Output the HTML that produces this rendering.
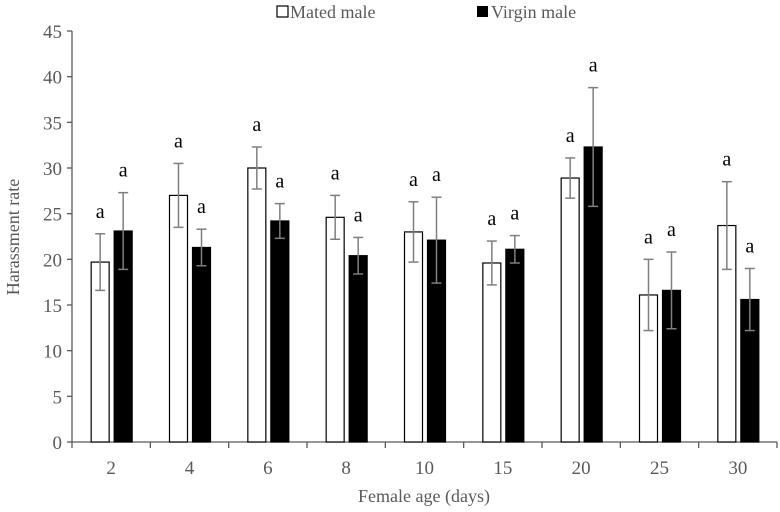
<!DOCTYPE html>
<html><head><meta charset="utf-8"><style>
html,body{margin:0;padding:0;background:#fff;overflow:hidden}
body{position:relative;width:780px;height:512px}
svg{position:absolute;left:0;top:0}
svg text{font-family:"Liberation Serif",serif}
</style></head><body>
<svg width="780" height="512" viewBox="0 0 780 512" id="chart">
 <g>
  <rect x="277" y="6" width="11" height="11" fill="#fff" stroke="#000" stroke-width="1.2"/>
  <text x="290" y="18" font-size="18" fill="#595959">Mated male</text>
  <rect x="477" y="6" width="11" height="11" fill="#000"/>
  <text x="491" y="18" font-size="18" fill="#595959">Virgin male</text>
 </g>
 <text x="424" y="502" text-anchor="middle" font-size="18" fill="#595959">Female age (days)</text>
 <text transform="translate(19,237) rotate(-90)" text-anchor="middle" font-size="18" fill="#595959">Harassment rate</text>
</svg>
<script>
const categories=["2","4","6","8","10","15","20","25","30"];
const matedValues=[19.7,27.0,30.0,24.6,23.0,19.6,28.9,16.1,23.7];
const matedErrors=[3.1,3.5,2.3,2.4,3.3,2.4,2.2,3.9,4.8];
const virginValues=[23.1,21.3,24.2,20.4,22.1,21.1,32.3,16.6,15.6];
const virginErrors=[4.2,2.0,1.9,2.0,4.7,1.5,6.5,4.2,3.4];
const yTicks=[0,5,10,15,20,25,30,35,40,45];
const svg=document.getElementById('chart');
const NS='http://www.w3.org/2000/svg';
const x0=72,x1=777,y0=442,yTop=31,yMax=45;
const band=(x1-x0)/categories.length;
function y(v){return y0-(v/yMax)*(y0-yTop);}
function mk(t,a){const e=document.createElementNS(NS,t);for(const k in a)e.setAttribute(k,a[k]);svg.appendChild(e);return e;}
let ax=mk('line',{x1:x0,y1:yTop,x2:x0,y2:y0,stroke:'#595959','stroke-width':1.3});


yTicks.forEach(t=>{
 mk('line',{x1:x0-5,y1:y(t),x2:x0,y2:y(t),stroke:'#595959','stroke-width':1.3});
 const tx=mk('text',{x:x0-10,y:y(t)+7,'text-anchor':'end','font-size':19,fill:'#595959'});
 tx.textContent=t;
 
 
});
let xa=mk('line',{x1:x0,y1:y0,x2:x1,y2:y0,stroke:'#595959','stroke-width':1.3});


for(let i=0;i<=categories.length;i++){mk('line',{x1:x0+i*band,y1:y0,x2:x0+i*band,y2:y0+6,stroke:'#595959','stroke-width':1.3});}
categories.forEach((c,i)=>{
 const cx=x0+(i+0.5)*band;
 const tx=mk('text',{x:cx,y:y0+32,'text-anchor':'middle','font-size':19,fill:'#595959'});
 tx.textContent=c;
 
 
 [[matedValues,matedErrors,cx-20,'#fff','mated'],[virginValues,virginErrors,cx+3,'#000','virgin']].forEach(([vals,errs,bx,fill,nm])=>{
  const v=vals[i],e=errs[i],w=18;
  const r=mk('rect',{x:bx,y:y(v),width:w,height:y0-y(v),fill:fill,stroke:'#000','stroke-width':1.2});
  
  
  const mx=bx+w/2;
  mk('line',{x1:mx,y1:y(v+e),x2:mx,y2:y(v-e),stroke:'#7f7f7f','stroke-width':1.5});
  mk('line',{x1:mx-5,y1:y(v+e),x2:mx+5,y2:y(v+e),stroke:'#7f7f7f','stroke-width':1.5});
  mk('line',{x1:mx-5,y1:y(v-e),x2:mx+5,y2:y(v-e),stroke:'#7f7f7f','stroke-width':1.5});
  const a=mk('text',{x:mx,y:y(v+e)-16,'text-anchor':'middle','font-size':20,fill:'#000'});
  a.textContent='a';
  
  
 });
});
</script>
</body></html>
